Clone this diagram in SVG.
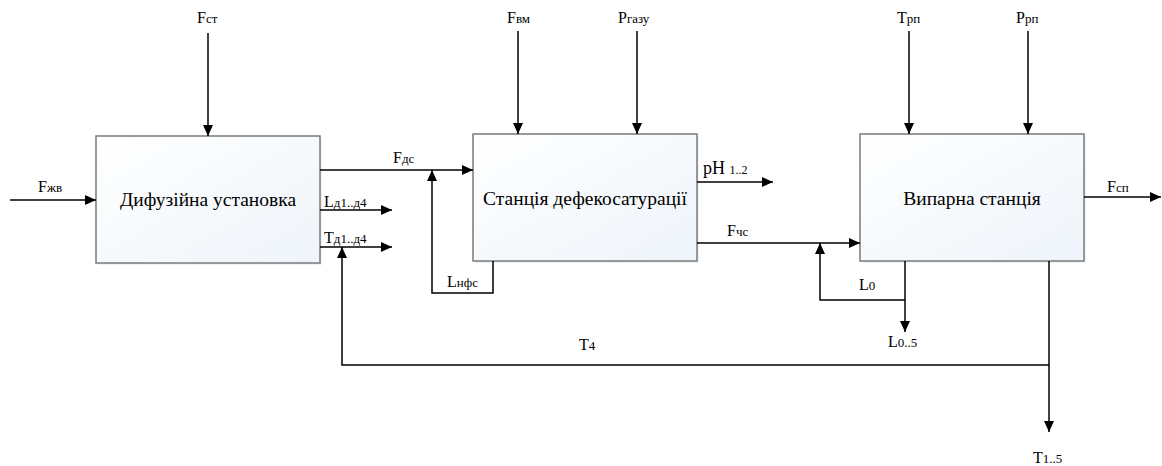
<svg xmlns="http://www.w3.org/2000/svg" width="1162" height="466" viewBox="0 0 1162 466">
<style>
.box{fill:url(#bg);stroke:#7a7a7a;stroke-width:1.5}
.shadow{fill:#dfe9f3;opacity:0.6}
.ln{fill:none;stroke:#000;stroke-width:1.5}
.arr{marker-end:url(#ah)}
.bt{font-size:19.5px;text-anchor:middle}
.lb{font-size:16px}
.sb{font-size:13px}
</style>
<defs>
<linearGradient id="bg" x1="0" y1="0" x2="1" y2="1">
<stop offset="0" stop-color="#ffffff"/>
<stop offset="1" stop-color="#eef4fa"/>
</linearGradient>
<marker id="ah" markerUnits="userSpaceOnUse" markerWidth="11" markerHeight="10" refX="11" refY="5" orient="auto">
<path d="M0,0 L11,5 L0,10 z" fill="#000"/>
</marker>
</defs>

<g font-family="'Liberation Serif', 'DejaVu Serif', serif" fill="#000">
<g id="node-dyfuziina">
<rect class="shadow" x="98" y="138" width="224" height="127"/>
<rect class="box" x="96" y="136" width="224" height="127"/>
<text class="bt" x="208" y="206">Дифузійна установка</text>
</g>
<g id="node-defekosaturatsii">
<rect class="shadow" x="475" y="136" width="224" height="127"/>
<rect class="box" x="473" y="134" width="224" height="127"/>
<text class="bt" x="585" y="205">Станція дефекосатурації</text>
</g>
<g id="node-vyparna">
<rect class="shadow" x="862" y="136" width="224" height="127"/>
<rect class="box" x="860" y="134" width="224" height="127"/>
<text class="bt" x="972" y="205">Випарна станція</text>
</g>

<g id="connectors">
<path class="ln arr" d="M208,33 V136"/>
<path class="ln arr" d="M10,200 H96"/>
<path class="ln arr" d="M320,170 H473"/>
<path class="ln arr" d="M320,210 H392"/>
<path class="ln arr" d="M320,247 H392"/>
<path class="ln arr" d="M1049,365 H342 V247"/>
<path class="ln arr" d="M493,261 V293 H432 V170"/>
<path class="ln arr" d="M518,31 V134"/>
<path class="ln arr" d="M637,31 V134"/>
<path class="ln arr" d="M697,182 H773"/>
<path class="ln arr" d="M697,243 H860"/>
<path class="ln arr" d="M905,300 H820 V243"/>
<path class="ln arr" d="M905,261 V332"/>
<path class="ln arr" d="M1049,261 V432"/>
<path class="ln arr" d="M909,31 V134"/>
<path class="ln arr" d="M1028,31 V134"/>
<path class="ln arr" d="M1084,197 H1161"/>
</g>

<g id="labels">
<text class="lb" x="197" y="23">F<tspan class="sb">ст</tspan></text>
<text class="lb" x="38" y="192">F<tspan class="sb">жв</tspan></text>
<text class="lb" x="393" y="163">F<tspan class="sb">дс</tspan></text>
<text class="lb" x="324" y="207">L<tspan class="sb">д1..д4</tspan></text>
<text class="lb" x="324" y="243">T<tspan class="sb">д1..д4</tspan></text>
<text class="lb" x="507" y="23">F<tspan class="sb">вм</tspan></text>
<text class="lb" x="618" y="23">P<tspan class="sb">газу</tspan></text>
<text x="703" y="174" font-size="18">pH <tspan font-size="12">1..2</tspan></text>
<text class="lb" x="727" y="236">F<tspan class="sb">чс</tspan></text>
<text class="lb" x="447" y="287">L<tspan class="sb">нфс</tspan></text>
<text class="lb" x="579" y="350">T<tspan class="sb">4</tspan></text>
<text class="lb" x="897" y="23">T<tspan class="sb">рп</tspan></text>
<text class="lb" x="1016" y="23">P<tspan class="sb">рп</tspan></text>
<text class="lb" x="1107" y="192">F<tspan class="sb">сп</tspan></text>
<text class="lb" x="859" y="290">L<tspan class="sb">0</tspan></text>
<text class="lb" x="888" y="347">L<tspan class="sb">0..5</tspan></text>
<text class="lb" x="1033" y="463">T<tspan class="sb">1..5</tspan></text>
</g>
</g>
</svg>
